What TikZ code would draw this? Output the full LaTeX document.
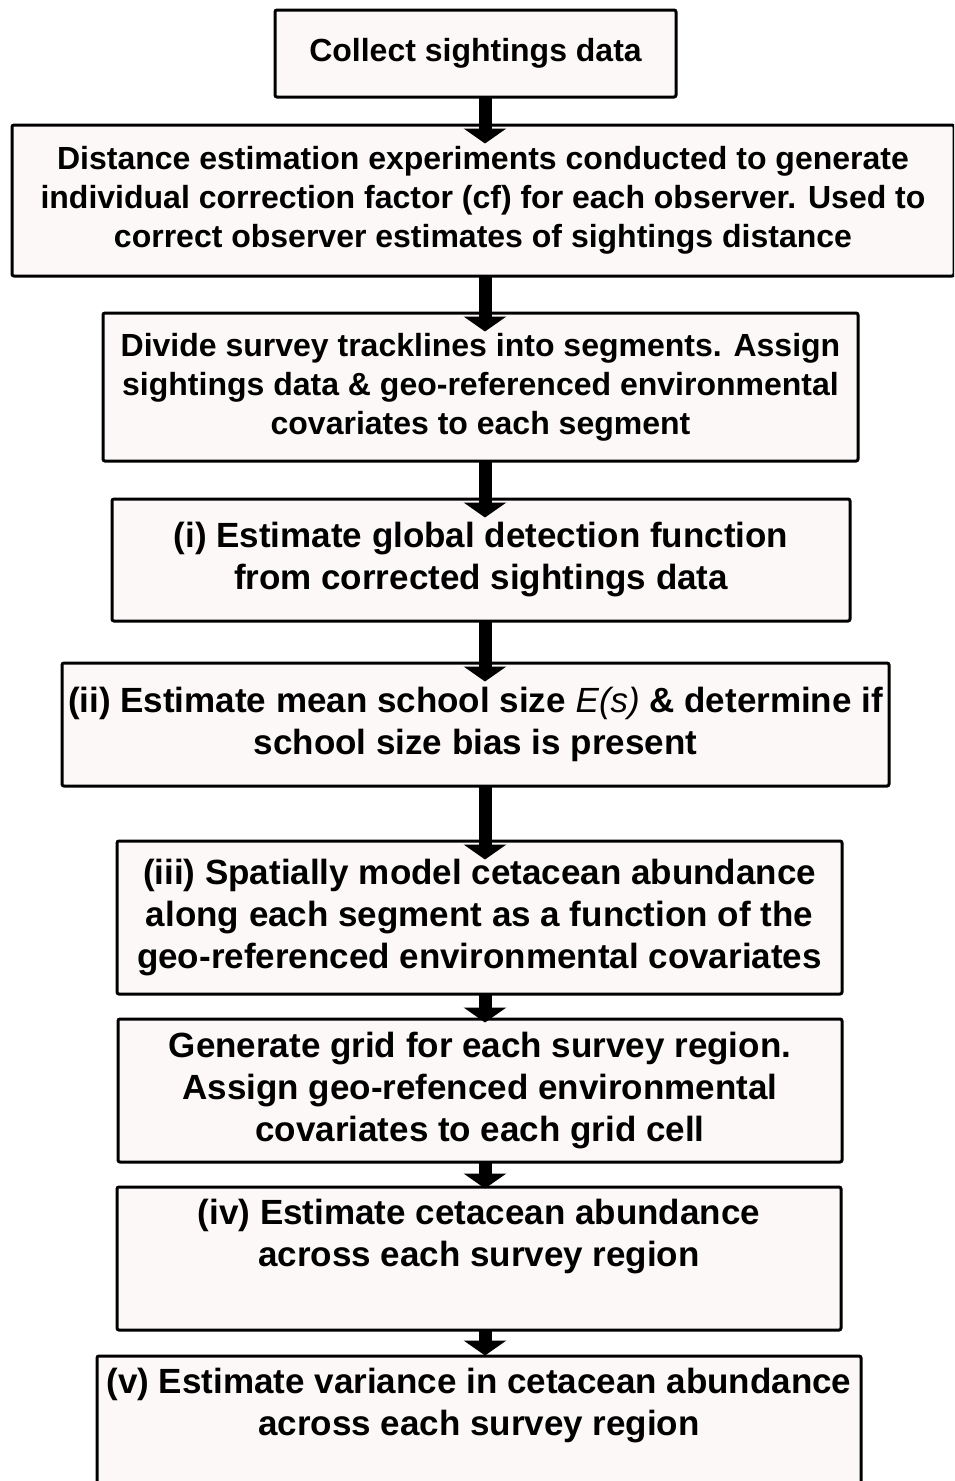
\documentclass[tikz,border=0pt]{standalone}
\usepackage{fontspec}
\setmainfont{Liberation Sans}
\usetikzlibrary{arrows.meta}
\definecolor{boxfill}{RGB}{253,248,248}
\begin{document}
\begin{tikzpicture}[x=1pt,y=-1pt]
\tikzset{etape/.style={draw, line width=3pt, rounded corners=2pt, fill=boxfill, inner sep=0pt, align=center, font=\fontsize{35}{42}\selectfont\bfseries}}
\tikzset{petit/.style={font=\fontsize{32}{39}\selectfont\bfseries}}
\tikzset{fleche/.style={line width=13pt, -{Triangle[width=42pt,length=15pt]}, shorten >=-20pt}}
\clip (0, 0) rectangle (954, 1481);
\fill[white] (0, 0) rectangle (954, 1481);
\coordinate (ax) at (485, 0);
\node[etape, petit, minimum width=401pt, minimum height=87pt] (E1) at (475.5, 53.5) {Collect sightings data};
\node[etape, petit, minimum width=942pt, minimum height=151pt] (E2) at (483, 200.5) {Distance estimation experiments conducted to generate\\individual correction factor (cf) for each observer. Used to\\correct observer estimates of sightings distance};
\node[etape, petit, minimum width=755pt, minimum height=148pt] (E3) at (480.5, 387) {Divide survey tracklines into segments. Assign\\sightings data \& geo-referenced environmental\\covariates to each segment};
\node[etape, minimum width=738pt, minimum height=122pt] (E4) at (481, 560) {(i) Estimate global detection function\\from corrected sightings data};
\node[etape, minimum width=827pt, minimum height=123pt] (E5) at (475.5, 724.5) {(ii) Estimate mean school size {\mdseries\itshape E(s)} \& determine if\\school size bias is present};
\node[etape, minimum width=725pt, minimum height=153pt] (E6) at (479.5, 917.5) {(iii) Spatially model cetacean abundance\\along each segment as a function of the\\geo-referenced environmental covariates};
\node[etape, minimum width=724pt, minimum height=143pt] (E7) at (480, 1090.5) {Generate grid for each survey region.\\Assign geo-refenced environmental\\covariates to each grid cell};
\node[etape, minimum width=724pt, minimum height=143pt] (E8) at (479, 1258.5) {(iv) Estimate cetacean abundance\\across each survey region\\[10pt]~};
\node[etape, minimum width=764pt, minimum height=143pt] (E9) at (479, 1427.5) {(v) Estimate variance in cetacean abundance\\across each survey region\\[10pt]~};
\draw[fleche] ([yshift=2pt]E1.south -| ax) -- (E2.north -| ax);
\draw[fleche] ([yshift=2pt]E2.south -| ax) -- (E3.north -| ax);
\draw[fleche] ([yshift=2pt]E3.south -| ax) -- (E4.north -| ax);
\draw[fleche] ([yshift=2pt]E4.south -| ax) -- (E5.north -| ax);
\draw[fleche] ([yshift=2pt]E5.south -| ax) -- (E6.north -| ax);
\draw[fleche, shorten >=-5pt] ([yshift=2pt]E6.south -| ax) -- (E7.north -| ax);
\draw[fleche, shorten >=-3pt] ([yshift=2pt]E7.south -| ax) -- (E8.north -| ax);
\draw[fleche, shorten >=-1pt] ([yshift=2pt]E8.south -| ax) -- (E9.north -| ax);
\end{tikzpicture}
\end{document}
